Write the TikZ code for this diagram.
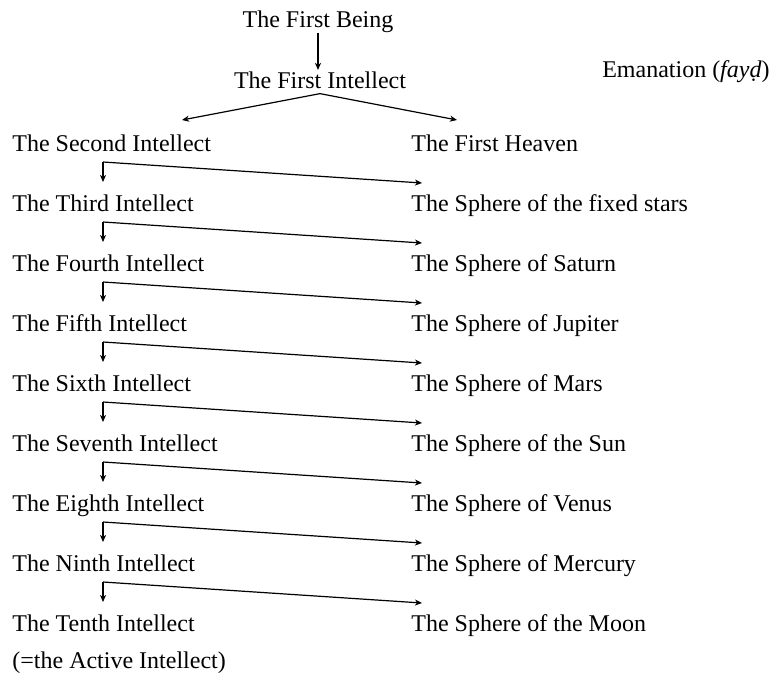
\documentclass[tikz,border=0pt]{standalone}
\usepackage{fontspec}
\setmainfont{Liberation Serif}
\usetikzlibrary{positioning, calc, arrows.meta}

\begin{document}
\begin{tikzpicture}[x=0.5pt, y=-0.5pt,
                        textnode/.style={inner sep=0pt, anchor=base west, font=\fontsize{12}{14}\selectfont},
                        flow/.style={-{Stealth[length=3.5pt, width=3pt, inset=1pt]}, line width=0.6pt},
                        ]
        \useasboundingbox (0,0) rectangle (776,675);
        %Nodes
        \node[textnode, anchor=base]      (being)   at (318,27)   {The First Being};
        \node[textnode, anchor=base]      (first)   at (320,88)   {The First Intellect};
        \node[textnode, anchor=base east] (eman)    at (770,77)   {Emanation (\textit{fayḍ})};

        \foreach \t [count=\k from 2] in {Second,Third,Fourth,Fifth,Sixth,Seventh,Eighth,Ninth,Tenth}
            \node[textnode] (int\k) at (12,{151+60*(\k-2)}) {The \t\ Intellect};
        \node[textnode]                   (active)  at (12,668)   {(=the Active Intellect)};

        \foreach \t [count=\k from 1] in {First Heaven,Sphere of the fixed stars,Sphere of Saturn,Sphere of Jupiter,Sphere of Mars,Sphere of the Sun,Sphere of Venus,Sphere of Mercury,Sphere of the Moon}
            \node[textnode] (sph\k) at (411,{151+60*(\k-1)}) {The \t};

        %Lines
        \coordinate (beingEnd) at ($(being.south |- first.north)+(0,-1)$);
        \draw[flow] (being.south) to (beingEnd);
        \coordinate (split) at ($(first.south)+(0,5)$);
        \coordinate (splitL) at ($(int2.base west)+(170,-31)$);
        \coordinate (splitR) at ($(sph1.base west)+(46,-31)$);
        \draw[flow] (split) to (splitL);
        \draw[flow] (split) to (splitR);

        \foreach \k [evaluate=\k as \j using int(\k+1)] in {2,...,9}{
            \coordinate (c\k) at ($(int\k.base west)+(91,11)$);
            \coordinate (d\k) at ($(int\j.base west)+(91,-29)$);
            \coordinate (e\k) at ($(sph\k.base west)+(11,-28)$);
            \draw[flow] (c\k) to (d\k);
            \draw[flow] (c\k) to (e\k);
        }
    \end{tikzpicture}
\end{document}
